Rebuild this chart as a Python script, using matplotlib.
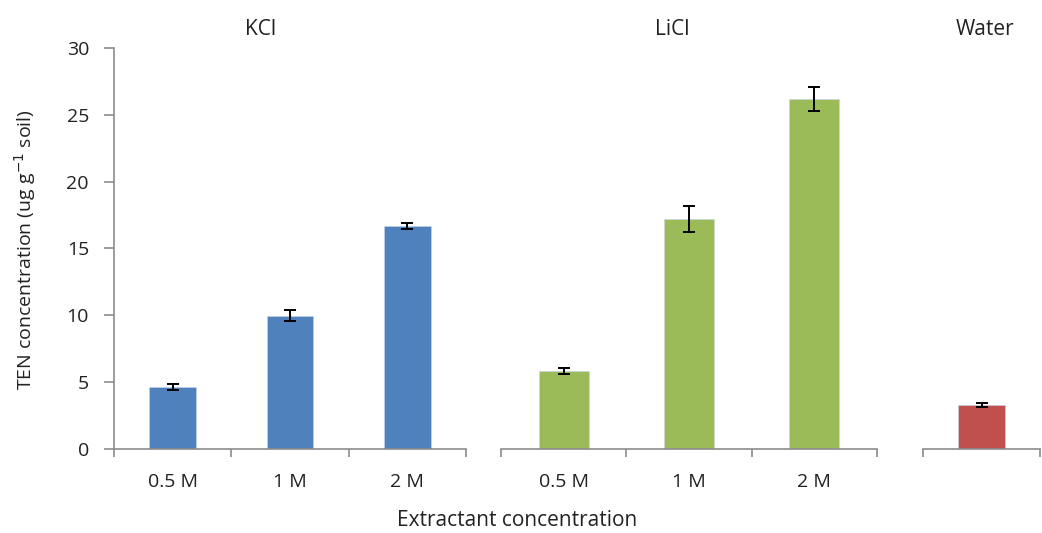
import matplotlib.pyplot as plt
import numpy as np

# data
kcl_labels = ['0.5 M', '1 M', '2 M']
kcl_vals = [4.65, 9.98, 16.68]
kcl_err = [0.22, 0.42, 0.22]

licl_labels = ['0.5 M', '1 M', '2 M']
licl_vals = [5.83, 17.2, 26.2]
licl_err = [0.2, 0.95, 0.9]

water_labels = ['']
water_vals = [3.3]
water_err = [0.15]

plt.rcParams['font.family'] = ['Open Sans', 'DejaVu Sans']
axis_col = '#8c8c8c'
txt_col = '#222222'

fig = plt.figure(figsize=(10.42, 5.33), dpi=100)
bottom, height = 0.1576, 0.7524
panels = [
    (0.1094, 0.3378, kcl_labels, kcl_vals, kcl_err, '#4f81bd', 'KCl', 0.250),
    (0.4808, 0.3608, licl_labels, licl_vals, licl_err, '#9bbb59', 'LiCl', 0.645),
    (0.8858, 0.1123, water_labels, water_vals, water_err, '#c0504d', 'Water', 0.945),
]

for i, (left, width, labels, vals, err, col, name, tx) in enumerate(panels):
    ax = fig.add_axes([left, bottom, width, height])
    x = np.arange(len(vals))
    ax.bar(x, vals, width=0.4, color=col, edgecolor='#c8d6e8', linewidth=0.4, zorder=2)
    ax.errorbar(x, vals, yerr=err, fmt='none', ecolor='black', elinewidth=1.4,
                capsize=4, capthick=1.4, zorder=3)
    ax.set_xlim(-0.5, len(vals) - 0.5)
    ax.set_ylim(0, 30)
    for s in ['top', 'right']:
        ax.spines[s].set_visible(False)
    ax.spines['bottom'].set_color(axis_col)
    ax.spines['bottom'].set_linewidth(1.2)
    ax.set_xticks(np.arange(len(vals) + 1) - 0.5)
    ax.set_xticklabels([])
    ax.set_xticks(x, minor=True)
    ax.set_xticklabels(labels, minor=True, fontsize=14, color=txt_col)
    ax.tick_params(axis='x', which='major', length=6, width=1.2, color=axis_col, direction='out')
    ax.tick_params(axis='x', which='minor', length=0, pad=17)
    if i == 0:
        ax.spines['left'].set_color(axis_col)
        ax.spines['left'].set_linewidth(1.2)
        ax.set_yticks(np.arange(0, 31, 5))
        ax.tick_params(axis='y', length=7, width=1.2, color=axis_col, labelsize=14,
                       labelcolor=txt_col, pad=11)
    else:
        ax.spines['left'].set_visible(False)
        ax.set_yticks([])
    fig.text(tx, 0.945, name, ha='center', va='center', fontsize=15, color=txt_col)

fig.text(0.024, 0.531, 'TEN concentration (ug g$^{-1}$ soil)', rotation=90,
         ha='center', va='center', fontsize=14, color=txt_col)
fig.text(0.496, 0.024, 'Extractant concentration', ha='center', va='center',
         fontsize=15, color=txt_col)

fig.savefig('out.png', dpi=100)
